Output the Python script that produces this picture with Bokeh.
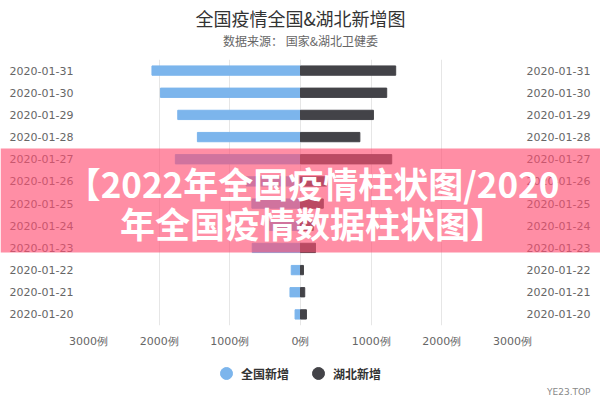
from bokeh.plotting import figure
from bokeh.models import (ColumnDataSource, FactorRange, Range1d, CategoricalAxis, FixedTicker,
                          BoxAnnotation, Label, Legend, LegendItem, GridBox)
from bokeh.embed import file_html
from bokeh.resources import INLINE

dates = ["2020-01-20", "2020-01-21", "2020-01-22", "2020-01-23", "2020-01-24", "2020-01-25",
         "2020-01-26", "2020-01-27", "2020-01-28", "2020-01-29", "2020-01-30", "2020-01-31"]
national = [77, 149, 131, 683, 444, 688, 769, 1771, 1459, 1737, 1982, 2102]
hubei = [84, 60, 42, 212, 180, 323, 371, 1291, 840, 1032, 1220, 1347]
x_ticks = [-3000, -2000, -1000, 0, 1000, 2000, 3000]
x_tick_labels = ["3000例", "2000例", "1000例", "0例", "1000例", "2000例", "3000例"]
series_names = ["全国新增", "湖北新增"]
title_text = "全国疫情全国&湖北新增图"
subtitle_text = "数据来源： 国家&湖北卫健委"
banner_lines = ["【2022年全国疫情柱状图/2020", "年全国疫情数据柱状图】"]
watermark = "YE23.TOP"

CJK = "Noto Sans CJK SC"
BLUE = "#7cb5ec"
DARK = "#434348"

source = ColumnDataSource(dict(date=dates, national=national,
                               national_neg=[-v for v in national], hubei=hubei))

# ---------------- main chart ----------------
p = figure(width=600, height=400, y_range=FactorRange(*dates), x_range=Range1d(-3000, 3000),
           output_backend="svg", toolbar_location=None,
           min_border_left=88, min_border_right=88, min_border_top=59, min_border_bottom=75)
p.outline_line_color = None

p.hbar(y="date", left="national_neg", right=0, height=0.42, color=BLUE, source=source)
p.hbar(y="date", left=0, right="hubei", height=0.42, color=DARK, source=source)

p.xaxis.ticker = FixedTicker(ticks=x_ticks)
p.xaxis.major_label_overrides = {t: l for t, l in zip(x_ticks, x_tick_labels)}
right_axis = CategoricalAxis()
p.add_layout(right_axis, "right")
for ax in p.axis:
    ax.axis_line_color = None
    ax.major_tick_line_color = None
    ax.minor_tick_line_color = None
    ax.major_tick_out = 0
    ax.major_tick_in = 0
    ax.major_label_text_color = "#666666"
    ax.major_label_text_font = "DejaVu Sans"
    ax.major_label_text_font_size = "11px"
p.yaxis[0].major_label_standoff = 15
right_axis.major_label_standoff = 14
p.xaxis.major_label_standoff = 9
p.xgrid.grid_line_color = "#e6e6e6"
p.ygrid.grid_line_color = None

# ---------------- overlay layer (titles, legend, watermark, banner) ----------------
o = figure(width=600, height=400, x_range=Range1d(0, 600), y_range=Range1d(0, 400),
           output_backend="svg", toolbar_location=None,
           x_axis_location=None, y_axis_location=None, min_border=0)
o.frame_align = False
o.grid.visible = False
o.outline_line_color = None
o.background_fill_color = None
o.border_fill_color = None

# legend markers: hidden renderers carrying the series data
r1 = o.scatter(x="national", y="hubei", source=source, marker="circle", size=12,
               color=BLUE, visible=False)
r2 = o.scatter(x="hubei", y="national", source=source, marker="circle", size=12,
               color=DARK, visible=False)
legend = Legend(items=[LegendItem(label=series_names[0], renderers=[r1]),
                       LegendItem(label=series_names[1], renderers=[r2])],
                location=(211, 12), orientation="horizontal",
                border_line_color=None, background_fill_alpha=0,
                padding=0, margin=0, spacing=14, label_standoff=0,
                glyph_width=30, glyph_height=30, label_height=30,
                label_text_font=CJK, label_text_font_size="12px",
                label_text_font_style="bold", label_text_color="#333333")
o.add_layout(legend)

o.add_layout(Label(x=300, y=17, x_units="canvas", y_units="canvas", text=title_text,
                   text_align="center", text_baseline="middle", text_font=CJK,
                   text_font_size="18px", text_color="#333333"))
o.add_layout(Label(x=300, y=40, x_units="canvas", y_units="canvas", text=subtitle_text,
                   text_align="center", text_baseline="middle", text_font=CJK,
                   text_font_size="12px", text_color="#666666"))
o.add_layout(Label(x=590, y=391, x_units="canvas", y_units="canvas", text=watermark,
                   text_align="right", text_baseline="middle", text_font="DejaVu Sans",
                   text_font_size="9px", text_color="#888888"))

o.add_layout(BoxAnnotation(left=0, right=600, top=148, bottom=252,
                           left_units="canvas", right_units="canvas",
                           top_units="canvas", bottom_units="canvas",
                           fill_color="#ff4e72", fill_alpha=0.64, line_color=None,
                           level="overlay"))
for i, line in enumerate(banner_lines):
    o.add_layout(Label(x=312, y=182 + 40 * i, x_units="canvas", y_units="canvas", text=line,
                       text_align="center", text_baseline="middle", text_font=CJK,
                       text_font_size="35px", text_font_style="bold", text_color="white",
                       level="overlay"))

layout = GridBox(children=[(p, 0, 0), (o, 0, 0)])
open("out.html", "w").write(file_html(layout, INLINE))
